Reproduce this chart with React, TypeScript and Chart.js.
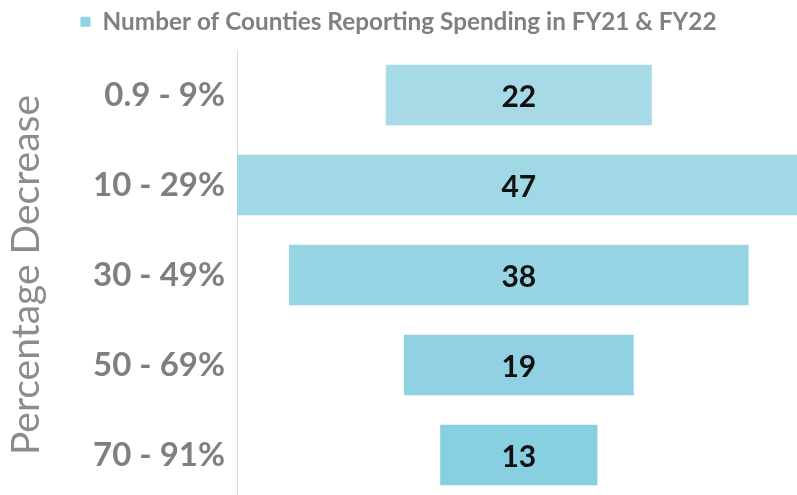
import React, { useEffect, useRef } from "react";
import { Chart, registerables } from "chart.js";

Chart.register(...registerables);

const categories = ["0.9 - 9%", "10 - 29%", "30 - 49%", "50 - 69%", "70 - 91%"];
const counts = [22, 47, 38, 19, 13];
const barColors = ["#a6dae7", "#a0d8e6", "#98d5e4", "#90d2e3", "#88cfe2"];
const seriesLabel = "Number of Counties Reporting Spending in FY21 & FY22";
const axisTitle = "Percentage Decrease";

const FONT = "Lato, 'Open Sans', sans-serif";

const valueLabels = {
  id: "valueLabels",
  afterUpdate(chart: any) {
    const lg = chart.legend;
    if (lg) {
      lg.top -= 6;
      lg.bottom -= 6;
      (lg.legendHitBoxes || []).forEach((h: any) => {
        h.top -= 6;
      });
    }
  },
  afterDatasetsDraw(chart: any) {
    const ctx = chart.ctx;
    const meta = chart.getDatasetMeta(0);
    ctx.save();
    ctx.font = `bold 30px ${FONT}`;
    ctx.fillStyle = "#111111";
    ctx.textAlign = "center";
    ctx.textBaseline = "middle";
    meta.data.forEach((el: any, i: number) => {
      const cx = (el.x + el.base) / 2;
      ctx.fillText(String(counts[i]), cx, el.y + 2);
    });
    ctx.restore();
  },
};

export default function App() {
  const ref = useRef<HTMLCanvasElement | null>(null);
  useEffect(() => {
    if (!ref.current) return;
    const chart = new Chart(ref.current, {
      type: "bar",
      data: {
        labels: categories,
        datasets: [
          {
            label: seriesLabel,
            data: counts.map((v) => [-v / 2, v / 2]) as any,
            backgroundColor: barColors,
            borderWidth: 0,
            barPercentage: 0.67,
            categoryPercentage: 1,
          },
        ],
      },
      options: {
        animation: false,
        responsive: false,
        indexAxis: "y",
        layout: { padding: { top: 0, left: 0, right: 0, bottom: 0 } },
        plugins: {
          tooltip: { enabled: false },
          legend: {
            position: "top",
            labels: {
              boxWidth: 10,
              boxHeight: 10,
              color: "#808080",
              padding: 3,
              font: { family: FONT, size: 24.3, weight: "bold", lineHeight: 1.69 },
              generateLabels: () => [
                {
                  text: seriesLabel,
                  fillStyle: "#8fd2e2",
                  strokeStyle: "#8fd2e2",
                  lineWidth: 0,
                  hidden: false,
                  datasetIndex: 0,
                  fontColor: "#808080",
                } as any,
              ],
            },
          },
        },
        scales: {
          x: {
            display: false,
            min: -23.3,
            max: 23.0,
            grid: { display: false },
          },
          y: {
            afterFit: (s: any) => {
              s.width = 237;
              s.paddingTop = 50;
              s.paddingBottom = 0;
            },
            grid: { display: false, drawTicks: false },
            border: { display: true, color: "#d9d9d9", width: 1 },
            ticks: {
              color: "#7f7f7f",
              padding: 12,
              font: { family: FONT, size: 33, weight: "bold" },
            },
            title: {
              display: true,
              text: axisTitle,
              color: "#8c8c8c",
              padding: { top: 3, bottom: 0 },
              font: { family: FONT, size: 39, weight: "normal" },
            },
          },
        },
      },
      plugins: [valueLabels],
    });
    return () => chart.destroy();
  }, []);
  return (
    <div
      style={{
        position: "fixed",
        left: 0,
        top: 0,
        width: 797,
        height: 495,
        overflow: "hidden",
        background: "#ffffff",
      }}
    >
      <canvas ref={ref} width={797} height={500} />
    </div>
  );
}
